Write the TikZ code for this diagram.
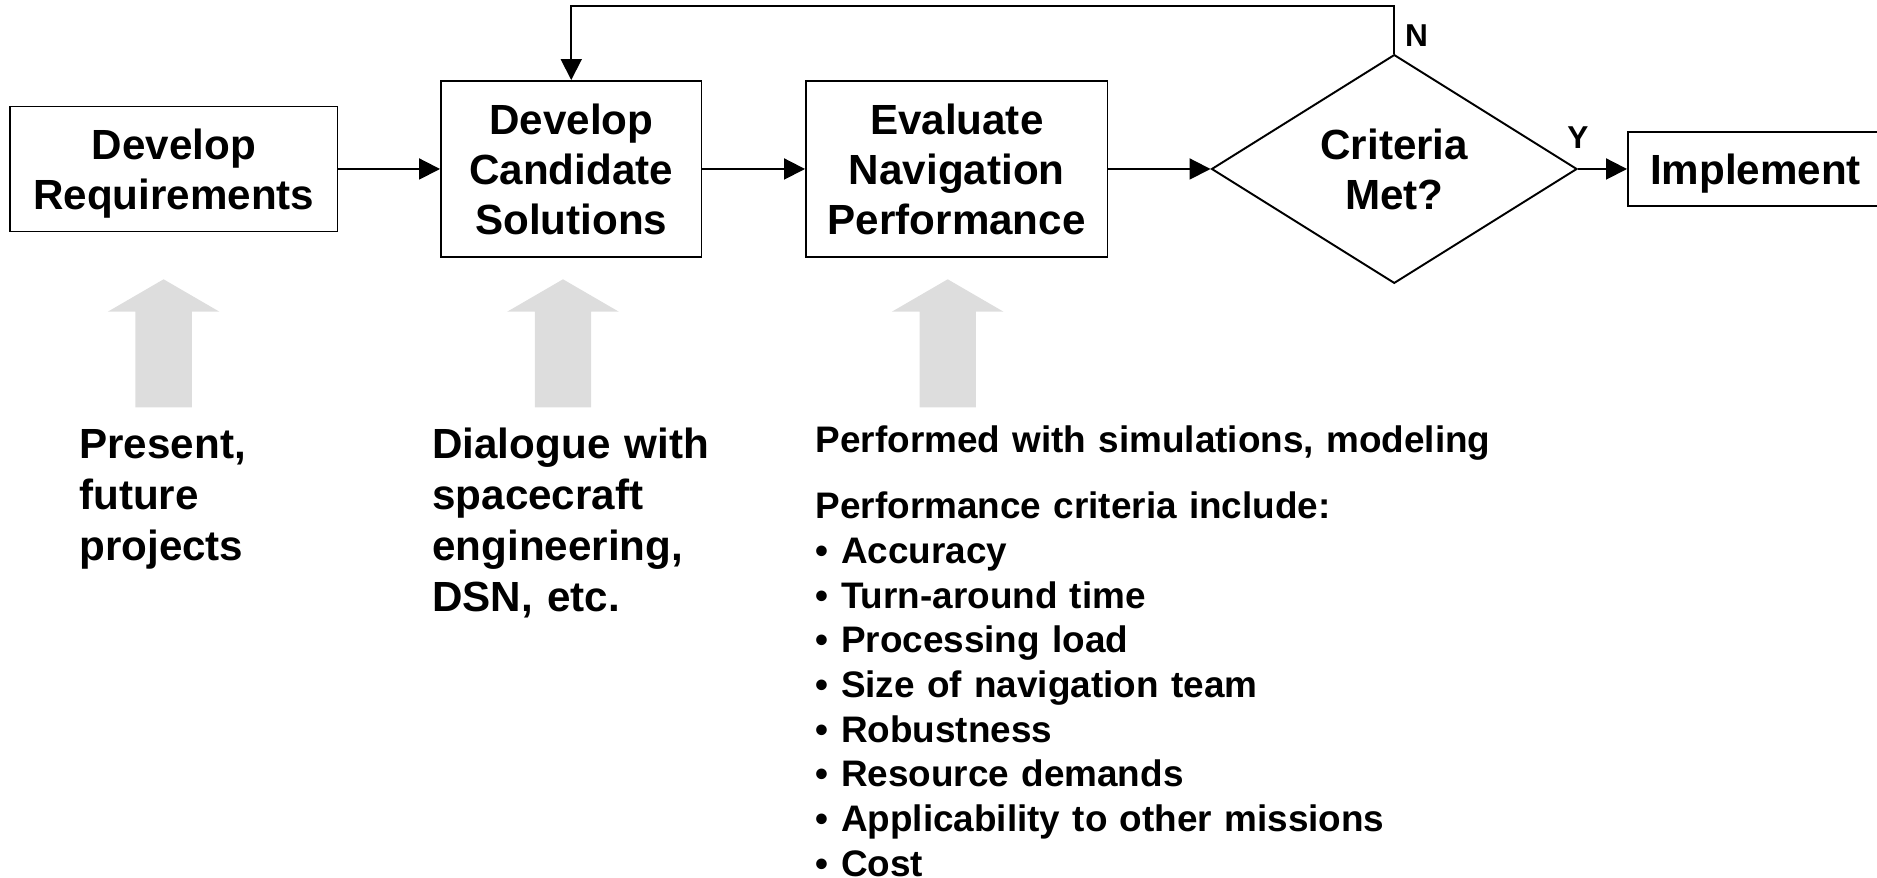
\documentclass[tikz,border=0pt]{standalone}
\usepackage{fontspec}
\setmainfont{Liberation Sans}
\usetikzlibrary{shapes.geometric,arrows.meta}
\definecolor{liftgray}{RGB}{221,221,221}
\begin{document}
\begin{tikzpicture}[
  stagebox/.style={draw,line width=1.1pt,align=center,inner sep=0pt,text depth=0pt,font=\fontsize{24}{28.5}\selectfont\bfseries},
  decision/.style={draw,diamond,line width=1.1pt,align=center,inner sep=0pt,font=\fontsize{24}{28.5}\selectfont\bfseries},
  flow/.style={line width=1.1pt,-{Triangle[length=0.42cm,width=0.42cm]}},
  note/.style={anchor=base west,inner sep=0pt,align=left}
]
\path[use as bounding box,clip](0,0)rectangle(37.54,17.56);
\pgfmathsetmacro{\ymid}{14.18}
% process chain
\node[stagebox,minimum width=6.55cm,minimum height=2.5cm](req)at(3.475,\ymid){Develop\\Requirements};
\node[stagebox,minimum width=5.21cm,minimum height=3.52cm](cand)at(11.425,\ymid){Develop\\Candidate\\Solutions};
\node[stagebox,minimum width=6.03cm,minimum height=3.52cm](eval)at(19.135,\ymid){Evaluate\\Navigation\\Performance};
\node[decision,minimum width=7.31cm,minimum height=4.56cm](crit)at(27.885,\ymid){Criteria\\Met?};
\node[stagebox,minimum width=5.1cm,minimum height=1.48cm](impl)at(35.11,\ymid){Implement};
\draw[flow](req)--(cand);
\draw[flow](cand)--(eval);
\draw[flow](eval)--(crit);
\draw[flow](crit.east)--(impl.west)node[at start,above=0.28cm,font=\fontsize{18}{20}\selectfont\bfseries]{Y};
\draw[flow](crit.north)--++(0,0.96)node[pos=0.375,right,xshift=0.08cm,font=\fontsize{18}{20}\selectfont\bfseries]{N}-|(cand.north);
% inputs feeding each stage
\foreach \ax in {3.272,11.26,18.954}
  \fill[liftgray](\ax-0.564,9.414)--(\ax-0.564,11.326)--(\ax-1.116,11.326)--(\ax,11.974)
    --(\ax+1.116,11.326)--(\ax+0.564,11.326)--(\ax+0.564,9.414)--cycle;
\node[note,text width=7cm,font=\fontsize{24}{29}\selectfont\bfseries](proj)at(1.58,8.38){Present,\\future\\projects};
\node[note,text width=7cm,font=\fontsize{24}{29}\selectfont\bfseries](dlg)at(8.64,8.38){Dialogue with\\spacecraft\\engineering,\\DSN, etc.};
\node[note,text width=16cm,font=\fontsize{21}{25.4}\selectfont\bfseries](sim)at(16.31,8.5){Performed with simulations, modeling};
\node[note,text width=16cm,font=\fontsize{21}{25.4}\selectfont\bfseries](crlist)at(16.31,7.18){Performance criteria include:\\
  • Accuracy\\• Turn-around time\\• Processing load\\• Size of navigation team\\
  • Robustness\\• Resource demands\\• Applicability to other missions\\• Cost};
\end{tikzpicture}
\end{document}
